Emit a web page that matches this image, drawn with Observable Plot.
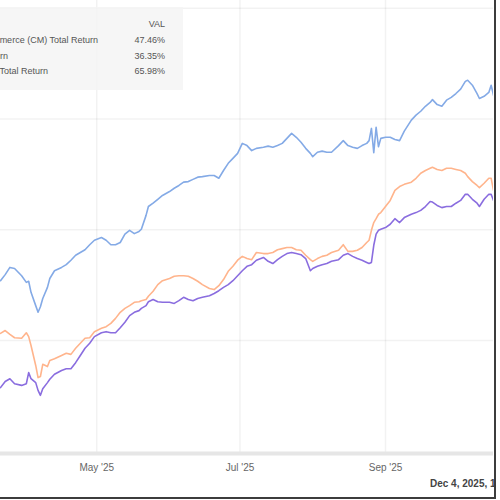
<!DOCTYPE html>
<html>
<head>
<meta charset="utf-8">
<script src="https://cdn.jsdelivr.net/npm/d3@7"></script>
<script src="https://cdn.jsdelivr.net/npm/@observablehq/plot@0.6"></script>
<style>
  html, body { margin: 0; padding: 0; background: #fff; }
  #frame { position: relative; width: 494px; height: 497px; overflow: hidden;
    border-right: 2px solid #3c3c3c; border-bottom: 2px solid #3c3c3c;
    font-family: "Liberation Sans", Arial, sans-serif; }
  #chart { position: absolute; left: 0; top: 0; }
  #legend { position: absolute; left: 0; top: 7px; width: 183px; height: 83px;
    background: rgba(244,244,244,0.85); font-size: 9px; color: #555; }
  #legend .r { position: absolute; white-space: nowrap; text-align: right; }
  #footer { position: absolute; left: 430px; top: 478px; white-space: nowrap;
    font-size: 10px; font-weight: bold; color: #444; }
</style>
</head>
<body>
<div id="frame">
  <div id="chart"></div>
  <div id="legend"></div>
  <div id="footer"></div>
</div>
<script>
// Dates of observations (2025)
const dates = [
 "03-21","03-23","03-25","03-27","03-30","04-01","04-02","04-03","04-05","04-06",
 "04-07","04-08","04-10","04-11","04-13","04-16","04-18","04-20","04-22","04-24",
 "04-26","04-28","04-30","05-03","05-05","05-07","05-09","05-11","05-13","05-15",
 "05-17","05-19","05-20","05-22","05-23","05-25","05-27","05-29","06-01","06-03",
 "06-05","06-07","06-09","06-11","06-13","06-15","06-18","06-20","06-22","06-24",
 "06-26","06-28","06-30","07-02","07-04","07-06","07-08","07-11","07-13","07-15",
 "07-17","07-19","07-21","07-23","07-25","07-27","07-29","07-31","08-01","08-03",
 "08-05","08-07","08-09","08-12","08-14","08-16","08-18","08-20","08-22","08-24",
 "08-25","08-26","08-27","08-28","08-29","08-30","09-01","09-03","09-05","09-07",
 "09-09","09-12","09-14","09-16","09-18","09-20","09-21","09-23","09-25","09-27",
 "09-29","10-01","10-03","10-05","10-06","10-08","10-10","10-11","10-13","10-15",
 "10-16","10-17"
];

// Blue series (total return, %)
const blueValues = [
 10.8,11.9,13.2,13.0,11.7,10.5,10.7,8.7,6.3,5.1,
 6.1,7.6,9.6,11.2,12.6,13.2,13.7,14.5,15.4,15.9,
 16.4,17.3,18.1,18.6,18.1,17.3,17.3,17.7,19.2,19.9,
 19.3,19.7,20.1,22.6,24.2,24.8,25.5,26.2,26.9,27.5,
 28.0,28.6,28.7,29.1,29.5,29.6,29.8,29.8,29.3,30.7,
 32.0,32.9,33.8,35.6,35.2,34.3,34.7,34.9,35.1,34.9,
 35.2,35.6,36.5,37.4,36.7,35.8,34.7,33.8,33.2,34.0,
 34.2,34.0,34.0,35.2,36.1,35.2,34.9,34.7,35.2,35.6,
 36.1,38.3,33.9,38.5,35.0,36.5,36.7,36.7,36.3,36.1,
 37.8,39.8,40.7,41.4,42.3,43.0,43.5,42.6,42.3,43.4,
 43.9,44.6,45.4,46.8,47.0,46.1,44.6,43.7,44.1,44.8,
 46.1,44.3
];

// Orange series
const orangeValues = [
 1.3,1.8,1.1,0.5,0.4,1.4,0.7,-0.9,-4.5,-6.7,
 -6.5,-4.3,-4.7,-3.6,-3.3,-2.7,-2.3,-2.5,-1.4,-0.5,
 0.4,0.5,1.6,2.2,2.5,3.1,4.0,5.1,5.8,6.3,
 6.9,7.0,7.2,7.4,8.0,8.9,10.1,10.8,11.2,11.6,
 11.7,11.7,11.6,11.2,10.7,10.1,9.4,9.2,9.9,11.0,
 12.5,13.4,14.5,15.2,14.8,14.6,15.9,15.7,15.7,15.9,
 16.4,16.6,16.8,16.8,16.4,16.3,15.4,14.6,14.3,14.8,
 15.2,15.4,15.9,16.3,17.3,16.1,16.1,16.3,16.8,17.7,
 18.1,19.9,21.3,22.0,22.8,23.1,24.2,25.3,27.1,27.8,
 28.2,28.6,29.3,30.2,30.7,31.1,31.3,30.9,30.7,31.1,
 31.1,30.9,30.7,30.2,29.6,28.7,28.0,27.6,28.4,29.3,
 29.3,27.1
];

// Purple series
const purpleValues = [
 -8.5,-7.4,-6.9,-7.8,-8.1,-7.8,-5.8,-6.9,-7.6,-9.0,
 -9.9,-8.7,-7.6,-7.0,-6.1,-5.4,-5.1,-5.1,-4.0,-2.7,
 -1.4,-0.5,0.7,1.4,1.6,1.4,1.4,2.3,3.3,4.5,
 5.1,5.4,5.8,6.3,7.0,7.4,7.0,6.9,6.9,6.7,
 7.2,7.8,7.4,7.2,7.6,7.8,8.1,8.5,9.0,9.6,
 10.1,10.8,11.7,12.6,13.4,13.7,14.5,15.0,14.3,13.9,
 14.6,15.2,15.7,15.9,15.7,15.5,14.8,12.6,13.0,13.4,
 13.7,13.9,14.3,14.6,15.4,15.7,15.2,14.8,14.5,14.1,
 13.9,14.1,17.2,19.2,19.9,20.1,20.4,21.0,22.0,21.3,
 22.2,22.8,23.1,23.5,24.2,25.1,25.0,24.4,24.0,24.2,
 24.2,24.8,25.3,26.4,26.4,25.5,24.8,24.2,25.5,26.4,
 26.4,25.3
];

const seriesNames = ["Toronto-Dominion Bank (TD)", "Canadian Imperial Bank of Commerce (CM)", "S&P/TSX Composite Index"];
const seriesColors = ["#84aae6", "#ffb48c", "#8a6ddf"];

const xTickDates = ["2025-05-01", "2025-07-01", "2025-09-01"];
const xTickLabels = ["May '25", "Jul '25", "Sep '25"];
const yGridValues = [0, 20, 40, 60];
const xDomain = ["2025-03-21", "2025-10-17"];
const yDomain = [-20.4, 61.4];

// Legend rows (cropped at left in the reference)
const legendHeader = "VAL";
const legendLabels = ["Canadian Imperial Bank of Commerce (CM) Total Return", "S&P/TSX Composite Index Total Return", "Toronto-Dominion Bank (TD) Total Return"];
const legendValues = ["47.46%", "36.35%", "65.98%"];
const footerText = "Dec 4, 2025, 10:12 AM EST. Powered by YCharts";

const parse = d3.utcParse("%Y-%m-%d");
const rows = [];
const seriesValues = [blueValues, orangeValues, purpleValues];
seriesValues.forEach((vals, si) => {
  vals.forEach((v, i) => rows.push({date: parse("2025-" + dates[i]), value: v, series: seriesNames[si]}));
});

const tickDates = xTickDates.map(parse);
const labelByTime = new Map(tickDates.map((d, i) => [+d, xTickLabels[i]]));

const chart = Plot.plot({
  width: 494,
  height: 475,
  marginTop: 0,
  marginLeft: 0,
  marginRight: 1,
  marginBottom: 22,
  style: {fontFamily: "'Liberation Sans', Arial, sans-serif", background: "transparent"},
  x: {type: "utc", domain: xDomain.map(parse)},
  y: {domain: yDomain},
  color: {domain: seriesNames, range: seriesColors},
  marks: [
    Plot.gridY(yGridValues, {stroke: "#000", strokeOpacity: 0.05, strokeWidth: 1.5}),
    Plot.gridX(tickDates, {stroke: "#000", strokeOpacity: 0.05, strokeWidth: 1.5}),
    Plot.ruleY([yDomain[0]], {stroke: "#e6e6e6", strokeWidth: 4}),
    Plot.axisX(tickDates, {tickSize: 0, tickPadding: 10, fontSize: 10, fill: "#666",
      tickFormat: d => labelByTime.get(+d)}),
    Plot.axisY({ticks: [], label: null, tickSize: 0}),
    Plot.lineY(rows, {x: "date", y: "value", z: "series", stroke: "series", strokeWidth: 1.6, clip: true})
  ]
});
document.getElementById("chart").appendChild(chart);

// legend
const lg = document.getElementById("legend");
const hdr = document.createElement("div");
hdr.className = "r"; hdr.textContent = legendHeader;
hdr.style.right = "18px"; hdr.style.top = "12px";
lg.appendChild(hdr);
const labelRight = [85, 175, 135];
legendLabels.forEach((t, i) => {
  const d = document.createElement("div");
  d.className = "r"; d.textContent = t;
  d.style.right = labelRight[i] + "px"; d.style.top = (28 + i * 15.5) + "px";
  lg.appendChild(d);
  const v = document.createElement("div");
  v.className = "r"; v.textContent = legendValues[i];
  v.style.right = "18px"; v.style.top = (28 + i * 15.5) + "px";
  lg.appendChild(v);
});
document.getElementById("footer").textContent = footerText;
</script>
</body>
</html>
